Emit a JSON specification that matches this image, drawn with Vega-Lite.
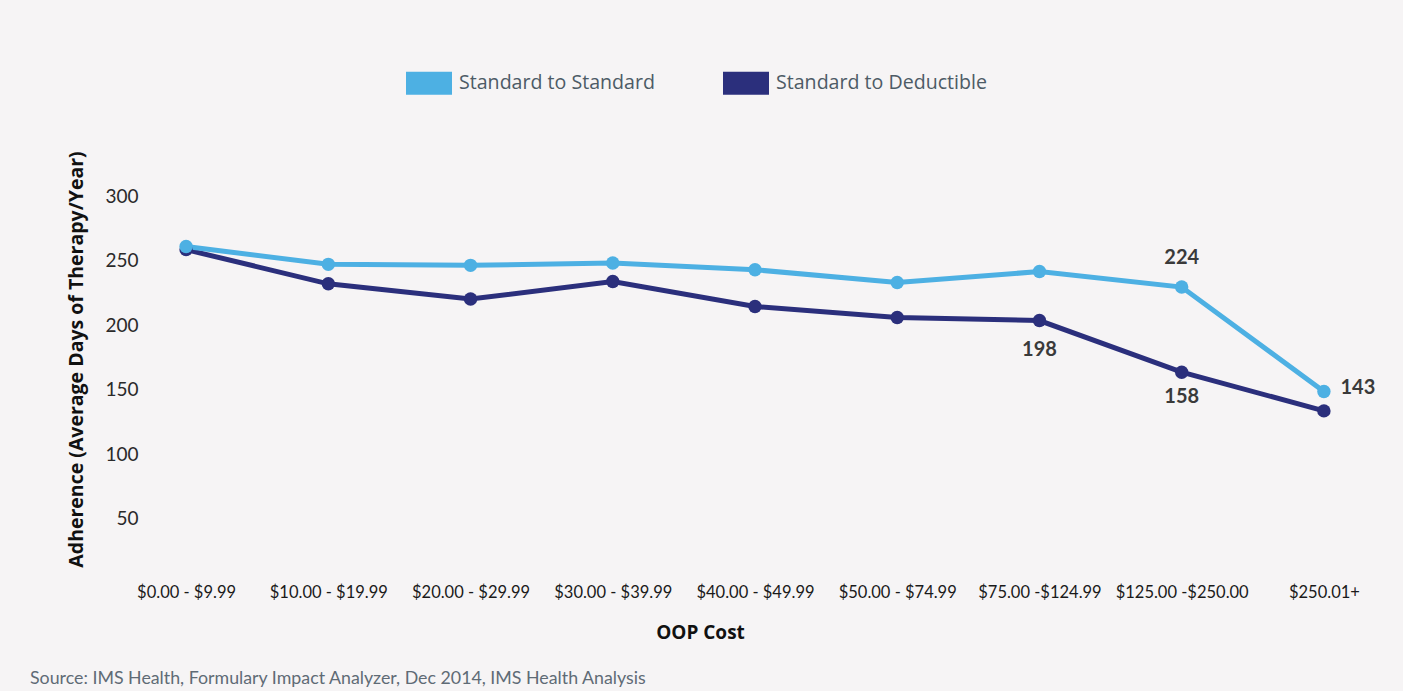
{
  "$schema": "https://vega.github.io/schema/vega-lite/v6.json",
  "width": 1226,
  "height": 387,
  "autosize": {"type": "none"},
  "padding": {"left": 142, "top": 189, "right": 35, "bottom": 115},
  "background": "#f6f4f5",
  "config": {"view": {"stroke": null}, "font": "Lato"},
  "title": {
    "text": "Source: IMS Health, Formulary Impact Analyzer, Dec 2014, IMS Health Analysis",
    "orient": "bottom",
    "anchor": "start",
    "frame": "group",
    "dx": -112,
    "offset": 28,
    "font": "Lato",
    "fontSize": 17.8,
    "fontWeight": "normal",
    "color": "#5f6b75"
  },
  "data": {
    "values": [
      {"cost": "$0.00 - $9.99", "series": "Standard to Deductible", "days": 253},
      {"cost": "$10.00 - $19.99", "series": "Standard to Deductible", "days": 226.5},
      {"cost": "$20.00 - $29.99", "series": "Standard to Deductible", "days": 214.7},
      {"cost": "$30.00 - $39.99", "series": "Standard to Deductible", "days": 228.3},
      {"cost": "$40.00 - $49.99", "series": "Standard to Deductible", "days": 208.9},
      {"cost": "$50.00 - $74.99", "series": "Standard to Deductible", "days": 200.4},
      {"cost": "$75.00 -$124.99", "series": "Standard to Deductible", "days": 198},
      {"cost": "$125.00 -$250.00", "series": "Standard to Deductible", "days": 158},
      {"cost": "$250.01+", "series": "Standard to Deductible", "days": 128},
      {"cost": "$0.00 - $9.99", "series": "Standard to Standard", "days": 255.4},
      {"cost": "$10.00 - $19.99", "series": "Standard to Standard", "days": 241.6},
      {"cost": "$20.00 - $29.99", "series": "Standard to Standard", "days": 240.8},
      {"cost": "$30.00 - $39.99", "series": "Standard to Standard", "days": 242.6},
      {"cost": "$40.00 - $49.99", "series": "Standard to Standard", "days": 237.4},
      {"cost": "$50.00 - $74.99", "series": "Standard to Standard", "days": 227.5},
      {"cost": "$75.00 -$124.99", "series": "Standard to Standard", "days": 236},
      {"cost": "$125.00 -$250.00", "series": "Standard to Standard", "days": 224},
      {"cost": "$250.01+", "series": "Standard to Standard", "days": 143}
    ]
  },
  "encoding": {
    "x": {
      "field": "cost",
      "type": "ordinal",
      "sort": null,
      "scale": {"type": "point", "padding": 0.31},
      "title": "OOP Cost",
      "axis": {
        "labelAngle": 0,
        "domain": false,
        "ticks": false,
        "grid": false,
        "labelFont": "Lato",
        "labelFontSize": 16.5,
        "labelColor": "#1a1a1a",
        "labelPadding": 8,
        "labelBaseline": "top",
        "titleFont": "Open Sans",
        "titleFontSize": 19,
        "titleFontWeight": "bold",
        "titleColor": "#111111",
        "titleX": 558,
        "titleY": 56,
        "titleAlign": "center",
        "titleBaseline": "middle"
      }
    },
    "y": {
      "field": "days",
      "type": "quantitative",
      "scale": {"domain": [0, 300], "nice": false, "zero": true},
      "title": "Adherence (Average Days of Therapy/Year)",
      "axis": {
        "values": [50, 100, 150, 200, 250, 300],
        "domain": false,
        "ticks": false,
        "grid": false,
        "labelOffset": 7,
        "labelFont": "Lato",
        "labelFontSize": 19,
        "labelColor": "#2a2a2a",
        "labelPadding": 4,
        "titleFont": "Open Sans",
        "titleFontSize": 19.5,
        "titleFontWeight": "bold",
        "titleColor": "#111111",
        "titleX": -66,
        "titleY": 170,
        "titleAngle": -90,
        "titleAlign": "center",
        "titleBaseline": "middle"
      }
    }
  },
  "layer": [
    {
      "mark": {"type": "line", "strokeWidth": 5},
      "encoding": {
        "color": {
          "field": "series",
          "type": "nominal",
          "scale": {"domain": ["Standard to Standard", "Standard to Deductible"], "range": ["#4db0e3", "#2b2f7c"]}
        }
      }
    },
    {
      "mark": {"type": "point", "filled": true, "size": 180, "opacity": 1},
      "encoding": {
        "color": {
          "field": "series",
          "type": "nominal",
          "scale": {"domain": ["Standard to Standard", "Standard to Deductible"], "range": ["#4db0e3", "#2b2f7c"]},
          "legend": {
            "orient": "none",
            "legendX": 264,
            "legendY": -129,
            "direction": "horizontal",
            "title": null,
            "symbolType": "M-1,-0.5H1V0.5H-1Z",
            "symbolSize": 2116,
            "symbolStrokeWidth": 0,
            "symbolOpacity": 1,
            "labelFont": "Open Sans",
            "labelFontSize": 19.6,
            "labelColor": "#4d5b66",
            "labelLimit": 400,
            "labelOffset": 7,
            "columnPadding": 68,
            "padding": 0,
            "encode": {
              "symbols": {
                "update": {
                  "fill": {"scale": "color", "field": "value"},
                  "stroke": {"value": "transparent"},
                  "opacity": {"value": 1}
                }
              }
            }
          }
        }
      }
    },
    {
      "transform": [{"filter": "datum.series == 'Standard to Standard' && datum.cost == '$125.00 -$250.00'"}],
      "mark": {"type": "text", "dy": -29, "font": "Lato", "fontSize": 20, "fontWeight": "bold", "color": "#3a3a3a"},
      "encoding": {"text": {"field": "days", "type": "quantitative", "format": ".0f"}}
    },
    {
      "transform": [{"filter": "datum.series == 'Standard to Standard' && datum.cost == '$250.01+'"}],
      "mark": {"type": "text", "dx": 34, "dy": -4, "font": "Lato", "fontSize": 20, "fontWeight": "bold", "color": "#3a3a3a"},
      "encoding": {"text": {"field": "days", "type": "quantitative", "format": ".0f"}}
    },
    {
      "transform": [{"filter": "datum.series == 'Standard to Deductible' && datum.cost == '$75.00 -$124.99'"}],
      "mark": {"type": "text", "dy": 29, "font": "Lato", "fontSize": 20, "fontWeight": "bold", "color": "#3a3a3a"},
      "encoding": {"text": {"field": "days", "type": "quantitative", "format": ".0f"}}
    },
    {
      "transform": [{"filter": "datum.series == 'Standard to Deductible' && datum.cost == '$125.00 -$250.00'"}],
      "mark": {"type": "text", "dy": 25, "font": "Lato", "fontSize": 20, "fontWeight": "bold", "color": "#3a3a3a"},
      "encoding": {"text": {"field": "days", "type": "quantitative", "format": ".0f"}}
    }
  ]
}
